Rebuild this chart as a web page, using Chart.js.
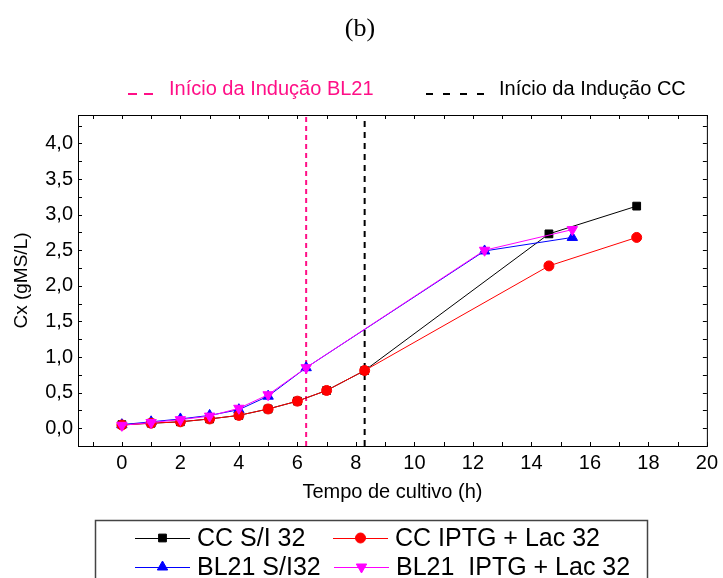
<!DOCTYPE html>
<html>
<head>
<meta charset="utf-8">
<script src="https://cdn.jsdelivr.net/npm/chart.js@4.4.1/dist/chart.umd.min.js"></script>
<style>
  html, body { margin: 0; padding: 0; background: #fff; }
</style>
</head>
<body>
<canvas id="growthChart" width="723" height="578"></canvas>
<script>
// cultivation time (h) and biomass Cx (gMS/L)
const timeCC = [0, 1, 2, 3, 4, 5, 6, 7, 8.3, 14.6, 17.6];
const ccSemInducao = [0.05, 0.07, 0.09, 0.13, 0.18, 0.27, 0.38, 0.53, 0.81, 2.73, 3.12];
const ccIptgLac = [0.045, 0.07, 0.09, 0.13, 0.18, 0.27, 0.38, 0.53, 0.81, 2.28, 2.68];

const timeBL21 = [0, 1, 2, 3, 4, 5, 6.3, 12.4, 15.4];
const bl21SemInducao = [0.05, 0.09, 0.13, 0.18, 0.26, 0.45, 0.85, 2.49, 2.68];
const bl21IptgLac = [0.04, 0.08, 0.12, 0.17, 0.28, 0.47, 0.85, 2.5, 2.79];

// induction start times (h)
const inducaoBL21 = 6.3;
const inducaoCC = 8.3;

const xTicks = [0, 2, 4, 6, 8, 10, 12, 14, 16, 18, 20];
const yTicks = [0, 0.5, 1, 1.5, 2, 2.5, 3, 3.5, 4];
const xMin = -1.5, xMax = 20;
const yMin = -0.25, yMax = 4.4;

const PINK = '#ff0f87';
const FONT = '"Liberation Sans", Arial, sans-serif';

Chart.defaults.font.family = FONT;
Chart.defaults.color = '#000';

const toPoints = (xs, ys) => xs.map((x, i) => ({ x, y: ys[i] }));

const series = [
  { label: 'CC S/I 32', xs: timeCC, ys: ccSemInducao, color: '#000000', style: 'rect', radius: 5.5, rot: 0, order: 3 },
  { label: 'CC IPTG + Lac 32', xs: timeCC, ys: ccIptgLac, color: '#ff0000', style: 'circle', radius: 5, rot: 0, order: 1 },
  { label: 'BL21 S/I32', xs: timeBL21, ys: bl21SemInducao, color: '#0000ff', style: 'triangle', radius: 6, rot: 0, order: 2 },
  { label: 'BL21  IPTG + Lac 32', xs: timeBL21, ys: bl21IptgLac, color: '#ff00ff', style: 'triangle', radius: 6, rot: 180, order: 0 }
];

const datasets = series.map(s => ({
  label: s.label,
  data: toPoints(s.xs, s.ys),
  borderColor: s.color,
  backgroundColor: s.color,
  borderWidth: 1,
  pointStyle: s.style,
  pointRadius: s.radius,
  pointRotation: s.rot,
  pointBorderWidth: 1,
  order: s.order
}));

// vertical dashed induction markers
const markers = [
  { label: 'Início da Indução BL21', at: inducaoBL21, color: PINK, dash: [5, 4] },
  { label: 'Início da Indução CC', at: inducaoCC, color: '#000000', dash: [6, 5] }
];
markers.forEach(m => datasets.push({
  label: m.label,
  data: [{ x: m.at, y: yMin }, { x: m.at, y: yMax }],
  borderColor: m.color,
  borderWidth: 2,
  borderDash: m.dash,
  pointRadius: 0,
  order: 5
}));

const decorations = {
  id: 'decorations',
  afterDatasetsDraw(chart) {
    const { ctx, chartArea: a, scales: { x, y } } = chart;
    ctx.save();
    ctx.strokeStyle = '#000';
    ctx.lineWidth = 1;
    ctx.strokeRect(a.left + 0.5, a.top + 0.5, a.right - a.left, a.bottom - a.top);

    // small inward ticks on all four sides
    ctx.beginPath();
    for (let v = Math.ceil(xMin); v <= xMax; v += 1) {
      const px = Math.round(x.getPixelForValue(v)) + 0.5;
      ctx.moveTo(px, a.top); ctx.lineTo(px, a.top + 4);
      ctx.moveTo(px, a.bottom); ctx.lineTo(px, a.bottom - 4);
    }
    for (let v = yMin; v <= yMax; v += 0.25) {
      const py = Math.round(y.getPixelForValue(v)) + 0.5;
      ctx.moveTo(a.left, py); ctx.lineTo(a.left + 4, py);
      ctx.moveTo(a.right, py); ctx.lineTo(a.right - 4, py);
    }
    ctx.stroke();
    ctx.restore();
  },
  afterDraw(chart) {
    const { ctx } = chart;
    ctx.save();

    // panel label
    ctx.fillStyle = '#000';
    ctx.font = '26px "Liberation Serif", "Times New Roman", serif';
    ctx.textAlign = 'center';
    ctx.textBaseline = 'middle';
    ctx.fillText('(b)', 360, 29);

    // top legend for the induction lines
    ctx.textAlign = 'left';
    ctx.font = '20px ' + FONT;
    ctx.lineWidth = 2;
    ctx.strokeStyle = PINK;
    ctx.beginPath();
    ctx.moveTo(128, 94); ctx.lineTo(137, 94);
    ctx.moveTo(144, 94); ctx.lineTo(153, 94);
    ctx.stroke();
    ctx.fillStyle = PINK;
    ctx.fillText(markers[0].label, 169, 89);

    ctx.strokeStyle = '#000';
    ctx.beginPath();
    [426, 443, 460, 477].forEach(x0 => { ctx.moveTo(x0, 94); ctx.lineTo(x0 + 7, 94); });
    ctx.stroke();
    ctx.fillStyle = '#000';
    ctx.fillText(markers[1].label, 499, 89);

    // bottom legend box
    ctx.strokeStyle = '#444';
    ctx.lineWidth = 1.5;
    ctx.strokeRect(95.5, 520.5, 552, 80);

    const cells = [
      { s: series[0], x: 135, y: 538 },
      { s: series[1], x: 333, y: 538 },
      { s: series[2], x: 135, y: 567 },
      { s: series[3], x: 334, y: 567 }
    ];
    ctx.font = '25px ' + FONT;
    cells.forEach(c => {
      ctx.strokeStyle = c.s.color;
      ctx.fillStyle = c.s.color;
      ctx.lineWidth = 1;
      ctx.beginPath();
      ctx.moveTo(c.x, c.y + 0.5); ctx.lineTo(c.x + 55, c.y + 0.5);
      ctx.stroke();
      Chart.helpers.drawPoint(ctx, {
        pointStyle: c.s.style, radius: c.s.radius, rotation: c.s.rot, borderWidth: 1
      }, c.x + 27.5, c.y);
      ctx.fillStyle = '#000';
      ctx.fillText(c.s.label, c.x + 62, c.y + 1);
    });
    ctx.restore();
  }
};

new Chart(document.getElementById('growthChart'), {
  type: 'scatter',
  data: { datasets },
  options: {
    responsive: false,
    animation: false,
    devicePixelRatio: 1,
    showLine: true,
    layout: { padding: { top: 115, right: 14, bottom: 71, left: 0 } },
    plugins: { legend: { display: false }, tooltip: { enabled: false } },
    scales: {
      x: {
        type: 'linear',
        min: xMin,
        max: xMax,
        afterBuildTicks: s => { s.ticks = xTicks.map(v => ({ value: v })); },
        afterFit: s => { s.height = 61; },
        grid: { display: false, drawTicks: false },
        border: { display: false },
        ticks: { font: { size: 20 }, padding: 5, maxRotation: 0, callback: v => String(v) },
        title: { display: true, text: 'Tempo de cultivo (h)', font: { size: 20 }, padding: { top: 0, bottom: 3 } }
      },
      y: {
        type: 'linear',
        min: yMin,
        max: yMax,
        afterBuildTicks: s => { s.ticks = yTicks.map(v => ({ value: v })); },
        afterFit: s => { s.width = 78; },
        grid: { display: false, drawTicks: false },
        border: { display: false },
        ticks: { font: { size: 20 }, padding: 5, callback: v => v.toFixed(1).replace('.', ',') },
        title: { display: true, text: 'Cx (gMS/L)', font: { size: 19 }, padding: { top: 10, bottom: 0 } }
      }
    }
  },
  plugins: [decorations]
});
</script>
</body>
</html>
